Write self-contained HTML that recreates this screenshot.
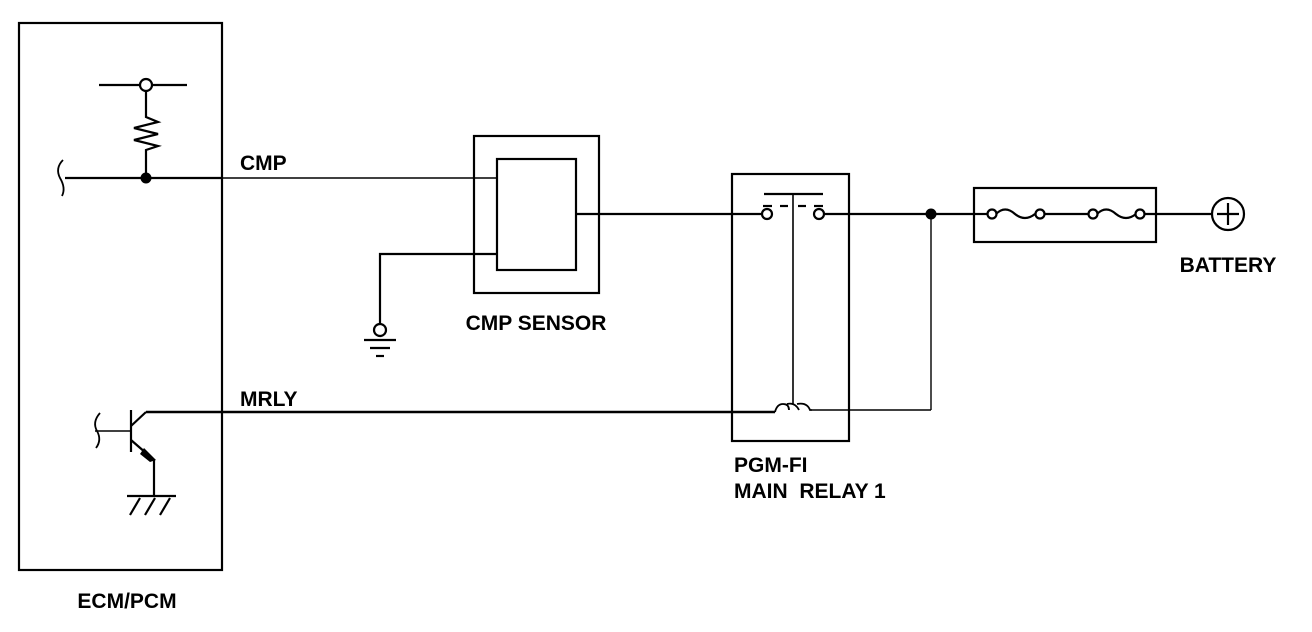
<!DOCTYPE html>
<html><head><style>
html,body{margin:0;padding:0;background:#fff;}
svg{display:block;}
text{font-family:"Liberation Sans",Arial,sans-serif;font-weight:bold;font-size:21px;fill:#000;}
</style></head><body>
<svg width="1312" height="632" viewBox="0 0 1312 632" xmlns="http://www.w3.org/2000/svg">
<g fill="none" stroke="#000" stroke-width="2.2">
<rect x="19" y="23" width="203" height="547"/>
<line x1="99" y1="85" x2="140" y2="85"/>
<line x1="152" y1="85" x2="187" y2="85"/>
<circle cx="146" cy="85" r="6" fill="#fff"/>
<polyline points="146,91 146,117 158,122 134,128 158,134 134,140 158,146 146,150 146,178"/>
<line x1="65" y1="178" x2="222" y2="178"/>
<path d="M63,160 Q55,168 60,178 Q66,188 62,196" stroke-width="1.8"/>
</g>
<line x1="222" y1="178" x2="497" y2="178" stroke="#000" stroke-width="1.4"/>
<circle cx="146" cy="178" r="5.5" fill="#000"/>
<g fill="none" stroke="#000" stroke-width="2.2">
<line x1="131" y1="410" x2="131" y2="452"/>
<line x1="131" y1="426" x2="146" y2="412"/>
<line x1="146" y1="412" x2="775" y2="412" stroke-width="2.6"/>
<line x1="131" y1="440" x2="154" y2="460"/>
<line x1="154" y1="460" x2="154" y2="496"/>
<line x1="127" y1="496" x2="176" y2="496"/>
<line x1="140" y1="498" x2="130" y2="515"/>
<line x1="155" y1="498" x2="145" y2="515"/>
<line x1="170" y1="498" x2="160" y2="515"/>
</g>
<line x1="95" y1="431" x2="131" y2="431" stroke="#000" stroke-width="1.4"/>
<path d="M100,413 Q92,422 97,431 Q102,440 96,448" fill="none" stroke="#000" stroke-width="1.8"/>
<polygon points="144,448 156,460 150,462 140,454" fill="#000"/>
<g fill="none" stroke="#000" stroke-width="2.2">
<rect x="474" y="136" width="125" height="157"/>
<rect x="497" y="159" width="79" height="111"/>
<line x1="576" y1="214" x2="762" y2="214"/>
<polyline points="497,254 380,254 380,324"/>
<circle cx="380" cy="330" r="6" fill="#fff"/>
<line x1="364" y1="340" x2="396" y2="340"/>
<line x1="370" y1="348" x2="390" y2="348"/>
<line x1="376" y1="356" x2="384" y2="356"/>
</g>
<g fill="none" stroke="#000" stroke-width="2.2">
<rect x="732" y="174" width="117" height="267"/>
<circle cx="767" cy="214" r="5" fill="#fff"/>
<circle cx="819" cy="214" r="5" fill="#fff"/>
<line x1="764" y1="194" x2="823" y2="194"/>
<line x1="763" y1="206" x2="772" y2="206"/>
<line x1="780" y1="206" x2="788" y2="206"/>
<line x1="798" y1="206" x2="806" y2="206"/>
<line x1="814" y1="206" x2="823" y2="206"/>
<line x1="793" y1="194" x2="793" y2="405" stroke-width="1.6"/>
<line x1="824" y1="214" x2="974" y2="214"/>
<path d="M775,412 Q777,404 783,404 Q789,404 789,410 M787,404 Q795,402 799,410 M797,404 Q807,402 810,410 L812,410" stroke-width="1.8"/>
</g>
<line x1="812" y1="410" x2="931" y2="410" stroke="#000" stroke-width="1.4"/>
<line x1="931" y1="214" x2="931" y2="410" stroke="#000" stroke-width="1.4"/>
<circle cx="931" cy="214" r="5.5" fill="#000"/>
<g fill="none" stroke="#000" stroke-width="2.2">
<rect x="974" y="188" width="182" height="54"/>
<line x1="974" y1="214" x2="988" y2="214"/>
<path d="M996,214 Q1005,205 1015,214 Q1025,222 1035,214"/>
<line x1="1044" y1="214" x2="1089" y2="214"/>
<path d="M1097,214 Q1106,205 1116,214 Q1126,222 1136,214"/>
<line x1="1144" y1="214" x2="1212" y2="214"/>
<circle cx="992" cy="214" r="4.5" fill="#fff"/>
<circle cx="1040" cy="214" r="4.5" fill="#fff"/>
<circle cx="1093" cy="214" r="4.5" fill="#fff"/>
<circle cx="1140" cy="214" r="4.5" fill="#fff"/>
<circle cx="1228" cy="214" r="16"/>
<line x1="1217" y1="214" x2="1239" y2="214"/>
<line x1="1228" y1="203" x2="1228" y2="225"/>
</g>
<text x="240" y="170">CMP</text>
<text x="240" y="406">MRLY</text>
<text x="536" y="330" text-anchor="middle">CMP SENSOR</text>
<text x="734" y="472">PGM-FI</text>
<text x="734" y="498" xml:space="preserve">MAIN  RELAY 1</text>
<text x="1228" y="272" text-anchor="middle">BATTERY</text>
<text x="127" y="608" text-anchor="middle">ECM/PCM</text>
</svg>
</body></html>
